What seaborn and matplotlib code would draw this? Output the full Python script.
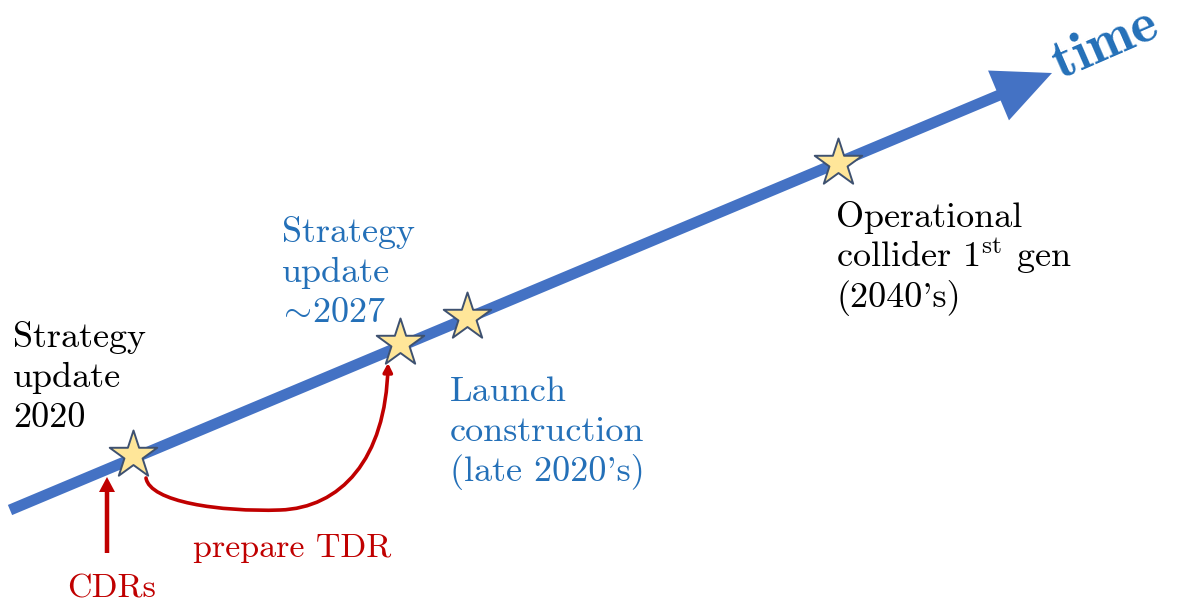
import matplotlib
matplotlib.use("Agg")
import matplotlib.pyplot as plt
from matplotlib.patches import FancyArrow, FancyArrowPatch
from matplotlib.path import Path
import seaborn as sns
import pandas as pd

# ---- data (pixel-space layout of the timeline diagram) ----
timeline_start = (10, 510)
timeline_tip = (1052, 73)
star_x = [133, 400, 467, 838]
star_y = [455, 343, 317, 163]
star_names = ["Strategy update 2020", "Strategy update ~2027",
              "Launch construction", "Operational collider"]

black_lines = ["Strategy", "update", "2020"]
black_pos = (13, 347)
blue1_lines = ["Strategy", "update", r"$\!\sim\!$2027"]
blue1_pos = (282, 242)
blue2_lines = ["Launch", "construction", "(late 2020's)"]
blue2_pos = (450, 401)
op_lines = ["Operational", r"collider 1$^{\mathrm{st}}$ gen", "(2040's)"]
op_pos = (836, 227)

cdr_arrow = ((107, 553), (107, 477))
cdr_label = ("CDRs", 67, 598)
tdr_curve = [(146, 478), (150, 502), (220, 512), (280, 510),
             (340, 508), (386, 460), (388, 363)]
tdr_label = ("prepare TDR", 193, 557)
time_label = ("time", 1061, 79, 23.5)

BLUE_LINE = "#4472C4"
BLUE_TEXT = "#2470B8"
RED = "#C00000"
STAR_FILL = "#FFE699"
STAR_EDGE = "#3E5170"

sns.set_theme(style="white")
plt.rcParams["font.family"] = ["cmr10", "DejaVu Serif"]
plt.rcParams["mathtext.fontset"] = "cm"
plt.rcParams["axes.unicode_minus"] = False

fig = plt.figure(figsize=(11.8, 6.11), dpi=100)
ax = fig.add_axes([0, 0, 1, 1])

# main timeline arrow
x0, y0 = timeline_start
x1, y1 = timeline_tip
ax.add_patch(FancyArrow(x0, y0, x1 - x0, y1 - y0, width=11, head_width=54,
                        head_length=58, length_includes_head=True,
                        color=BLUE_LINE, lw=0, zorder=1))

# stars
df = pd.DataFrame({"x": star_x, "y": star_y, "name": star_names})
sns.scatterplot(data=df, x="x", y="y", marker="*", s=36 ** 2,
                color=STAR_FILL, edgecolor=STAR_EDGE, linewidth=1.4,
                ax=ax, zorder=3, legend=False)
ax.set_xlim(0, 1180)
ax.set_ylim(611, 0)
ax.set_axis_off()

def lines_text(lines, pos, color, size=26, step=40):
    x, y = pos
    for i, t in enumerate(lines):
        ax.text(x, y + i * step, t, color=color, fontsize=size,
                ha="left", va="baseline")

lines_text(black_lines, black_pos, "black")
lines_text(blue1_lines, blue1_pos, BLUE_TEXT)
lines_text(blue2_lines, blue2_pos, BLUE_TEXT)
lines_text(op_lines, op_pos, "black")

# CDR arrow
(ax0, ay0), (ax1, ay1) = cdr_arrow
ax.add_patch(FancyArrow(ax0, ay0, ax1 - ax0, ay1 - ay0, width=4.5,
                        head_width=16, head_length=15,
                        length_includes_head=True, color=RED, lw=0, zorder=2))
ax.text(cdr_label[1], cdr_label[2], cdr_label[0], color=RED, fontsize=24.5,
        ha="left", va="baseline")

# TDR curved arrow
codes = [Path.MOVETO] + [Path.CURVE4] * 6
path = Path(tdr_curve, codes)
ax.add_patch(FancyArrowPatch(path=path,
                             arrowstyle="-|>,head_length=5,head_width=2.6",
                             color=RED, lw=2.6, zorder=2))
ax.text(tdr_label[1], tdr_label[2], tdr_label[0], color=RED, fontsize=24.5,
        ha="left", va="baseline")

# time label
ax.text(time_label[1], time_label[2], time_label[0], color=BLUE_TEXT,
        fontsize=40, family=["cmb10", "DejaVu Serif"], rotation=time_label[3],
        rotation_mode="anchor", ha="left", va="baseline")

fig.savefig("out.png", dpi=100)
